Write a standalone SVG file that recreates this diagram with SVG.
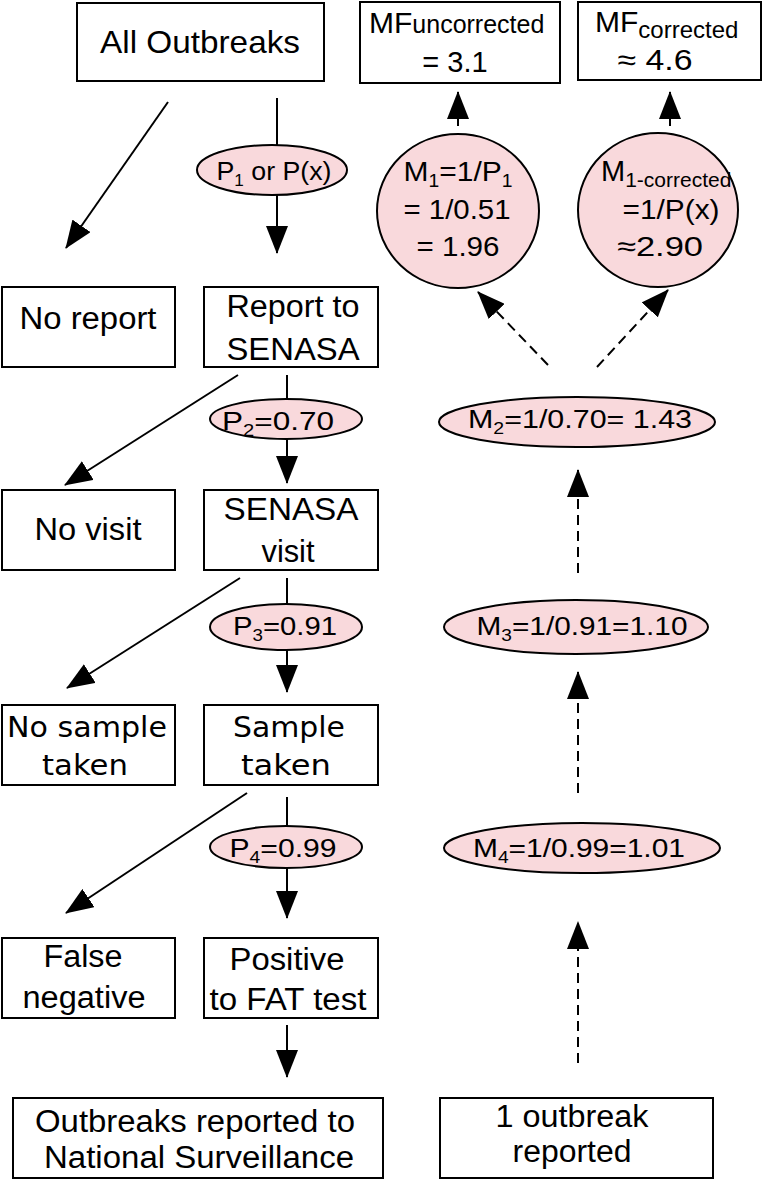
<svg xmlns="http://www.w3.org/2000/svg" width="765" height="1180" viewBox="0 0 765 1180">
<style>
.box{fill:#fff;stroke:#000;stroke-width:2}
.ell{fill:#f9d9dc;stroke:#000;stroke-width:2}
text{font-family:"Liberation Sans",Arial,sans-serif;fill:#000;text-anchor:middle}
.b{font-size:31px}
.v{font-family:"DejaVu Sans",Verdana,sans-serif;font-size:28px}
.e{font-size:28px}
.s{font-size:25px}
.st{text-anchor:start}
.con{stroke:#000;stroke-width:2;fill:none}
.dash{stroke-dasharray:10 6}
</style>
<defs>
<marker id="ah" markerUnits="userSpaceOnUse" markerWidth="28" markerHeight="22" viewBox="0 0 28 22" refX="27" refY="11" orient="auto"><path d="M0,0 L28,11 L0,22 z" fill="#000"/></marker>
</defs>
<rect width="765" height="1180" fill="#fff"/>
<g id="connectors">
<line class="con" x1="168" y1="102" x2="66" y2="248" marker-end="url(#ah)"/>
<line class="con" x1="277" y1="98" x2="277" y2="253" marker-end="url(#ah)"/>
<line class="con" x1="238" y1="375" x2="65" y2="485" marker-end="url(#ah)"/>
<line class="con" x1="287" y1="375" x2="287" y2="483" marker-end="url(#ah)"/>
<line class="con" x1="240" y1="578" x2="67" y2="688" marker-end="url(#ah)"/>
<line class="con" x1="287" y1="578" x2="287" y2="692" marker-end="url(#ah)"/>
<line class="con" x1="247" y1="793" x2="66" y2="913" marker-end="url(#ah)"/>
<line class="con" x1="287" y1="797" x2="287" y2="918" marker-end="url(#ah)"/>
<line class="con" x1="287" y1="1025" x2="287" y2="1077" marker-end="url(#ah)"/>
<line class="con" x1="458" y1="126" x2="458" y2="92" marker-end="url(#ah)"/>
<line class="con" x1="670" y1="126" x2="670" y2="92" marker-end="url(#ah)"/>
<line class="con dash" x1="548" y1="365" x2="478" y2="292" marker-end="url(#ah)"/>
<line class="con dash" x1="597" y1="367" x2="668" y2="290" marker-end="url(#ah)"/>
<line class="con dash" x1="578" y1="573" x2="578" y2="470" marker-end="url(#ah)"/>
<line class="con dash" x1="578" y1="793" x2="578" y2="672" marker-end="url(#ah)"/>
<line class="con dash" x1="578" y1="1063" x2="578" y2="922" marker-end="url(#ah)"/>
</g>
<g id="all-outbreaks"><rect class="box" x="77" y="3" width="247" height="78"/><text x="200" y="53" font-size="32" textLength="200" lengthAdjust="spacingAndGlyphs">All Outbreaks</text></g>
<g id="mf-uncorrected"><rect class="box" x="360" y="2" width="200" height="81"/><text class="st" x="369" y="33"><tspan font-size="30">MF</tspan><tspan font-size="25">uncorrected</tspan></text><text x="455" y="72" font-size="29">= 3.1</text></g>
<g id="mf-corrected"><rect class="box" x="578" y="2" width="183" height="78"/><text class="st" x="595" y="32"><tspan font-size="30">MF</tspan><tspan font-size="24" dy="6">corrected</tspan></text><text x="655" y="70" font-size="29" textLength="75" lengthAdjust="spacingAndGlyphs">≈ 4.6</text></g>
<g id="p1"><ellipse class="ell" cx="272" cy="170" rx="75" ry="25"/><text class="s" x="274" y="180" textLength="115" lengthAdjust="spacingAndGlyphs">P<tspan dy="6" font-size="16">1</tspan><tspan dy="-6"> or P(x)</tspan></text></g>
<g id="m1"><ellipse class="ell" cx="458" cy="211" rx="81" ry="77"/><text class="e" x="458" y="181" textLength="109" lengthAdjust="spacingAndGlyphs">M<tspan dy="6" font-size="18">1</tspan><tspan dy="-6">=1/P</tspan><tspan dy="6" font-size="18">1</tspan></text><text class="e" x="457" y="219" textLength="107" lengthAdjust="spacingAndGlyphs">= 1/0.51</text><text class="e" x="458" y="256" textLength="83" lengthAdjust="spacingAndGlyphs">= 1.96</text></g>
<g id="m1-corrected"><ellipse class="ell" cx="658" cy="210" rx="80" ry="77"/><text class="st" x="601" y="181"><tspan font-size="29">M</tspan><tspan font-size="21" dy="6">1-corrected</tspan></text><text class="e" x="671" y="219" textLength="97" lengthAdjust="spacingAndGlyphs">=1/P(x)</text><text class="e" x="660" y="256" textLength="86" lengthAdjust="spacingAndGlyphs">≈2.90</text></g>
<g id="no-report"><rect class="box" x="2" y="287" width="173" height="80"/><text class="b" x="88" y="329" textLength="137" lengthAdjust="spacingAndGlyphs">No report</text></g>
<g id="report-senasa"><rect class="box" x="204" y="287" width="174" height="80"/><text class="b" x="293" y="317" textLength="133" lengthAdjust="spacingAndGlyphs">Report to</text><text class="b" x="293" y="360" textLength="133" lengthAdjust="spacingAndGlyphs">SENASA</text></g>
<g id="p2"><ellipse class="ell" cx="286" cy="419" rx="76" ry="20"/><text class="s" x="278" y="430" textLength="112" lengthAdjust="spacingAndGlyphs">P<tspan dy="6" font-size="16">2</tspan><tspan dy="-6">=0.70</tspan></text></g>
<g id="m2"><ellipse class="ell" cx="577" cy="422" rx="138" ry="25"/><text class="s" x="580" y="428" textLength="224" lengthAdjust="spacingAndGlyphs">M<tspan dy="6" font-size="16">2</tspan><tspan dy="-6">=1/0.70= 1.43</tspan></text></g>
<g id="no-visit"><rect class="box" x="2" y="490" width="173" height="80"/><text class="b" x="88" y="540" textLength="107" lengthAdjust="spacingAndGlyphs">No visit</text></g>
<g id="senasa-visit"><rect class="box" x="204" y="490" width="174" height="80"/><text class="b" x="291" y="520" textLength="135" lengthAdjust="spacingAndGlyphs">SENASA</text><text class="b" x="288" y="562" textLength="53" lengthAdjust="spacingAndGlyphs">visit</text></g>
<g id="p3"><ellipse class="ell" cx="286" cy="627" rx="76" ry="23"/><text class="s" x="285" y="635" textLength="104" lengthAdjust="spacingAndGlyphs">P<tspan dy="6" font-size="16">3</tspan><tspan dy="-6">=0.91</tspan></text></g>
<g id="m3"><ellipse class="ell" cx="576" cy="627" rx="132" ry="27"/><text class="s" x="582" y="635" textLength="211" lengthAdjust="spacingAndGlyphs">M<tspan dy="6" font-size="16">3</tspan><tspan dy="-6">=1/0.91=1.10</tspan></text></g>
<g id="no-sample"><rect class="box" x="2" y="705" width="173" height="80"/><text class="v" x="87" y="737" textLength="160" lengthAdjust="spacingAndGlyphs">No sample</text><text class="v" x="85" y="775" textLength="86" lengthAdjust="spacingAndGlyphs">taken</text></g>
<g id="sample-taken"><rect class="box" x="204" y="705" width="174" height="80"/><text class="v" x="289" y="737" textLength="112" lengthAdjust="spacingAndGlyphs">Sample</text><text class="v" x="286" y="775" textLength="90" lengthAdjust="spacingAndGlyphs">taken</text></g>
<g id="p4"><ellipse class="ell" cx="286" cy="847" rx="76" ry="21"/><text class="s" x="283" y="857" textLength="107" lengthAdjust="spacingAndGlyphs">P<tspan dy="6" font-size="16">4</tspan><tspan dy="-6">=0.99</tspan></text></g>
<g id="m4"><ellipse class="ell" cx="582" cy="848" rx="138" ry="25"/><text class="s" x="579" y="857" textLength="212" lengthAdjust="spacingAndGlyphs">M<tspan dy="6" font-size="16">4</tspan><tspan dy="-6">=1/0.99=1.01</tspan></text></g>
<g id="false-negative"><rect class="box" x="2" y="938" width="173" height="80"/><text class="b" x="83" y="967" textLength="79" lengthAdjust="spacingAndGlyphs">False</text><text class="b" x="84" y="1008" textLength="123" lengthAdjust="spacingAndGlyphs">negative</text></g>
<g id="positive-fat"><rect class="box" x="204" y="938" width="174" height="80"/><text class="b" x="287" y="970" textLength="115" lengthAdjust="spacingAndGlyphs">Positive</text><text class="b" x="288" y="1010" textLength="157" lengthAdjust="spacingAndGlyphs">to FAT test</text></g>
<g id="outbreaks-reported"><rect class="box" x="13" y="1098" width="370" height="80"/><text class="b" x="195" y="1132" textLength="320" lengthAdjust="spacingAndGlyphs">Outbreaks reported to</text><text class="b" x="199" y="1168" textLength="310" lengthAdjust="spacingAndGlyphs">National Surveillance</text></g>
<g id="one-outbreak"><rect class="box" x="440" y="1098" width="273" height="80"/><text class="b" x="572" y="1127" textLength="153" lengthAdjust="spacingAndGlyphs">1 outbreak</text><text class="b" x="572" y="1162" textLength="119" lengthAdjust="spacingAndGlyphs">reported</text></g>
</svg>
